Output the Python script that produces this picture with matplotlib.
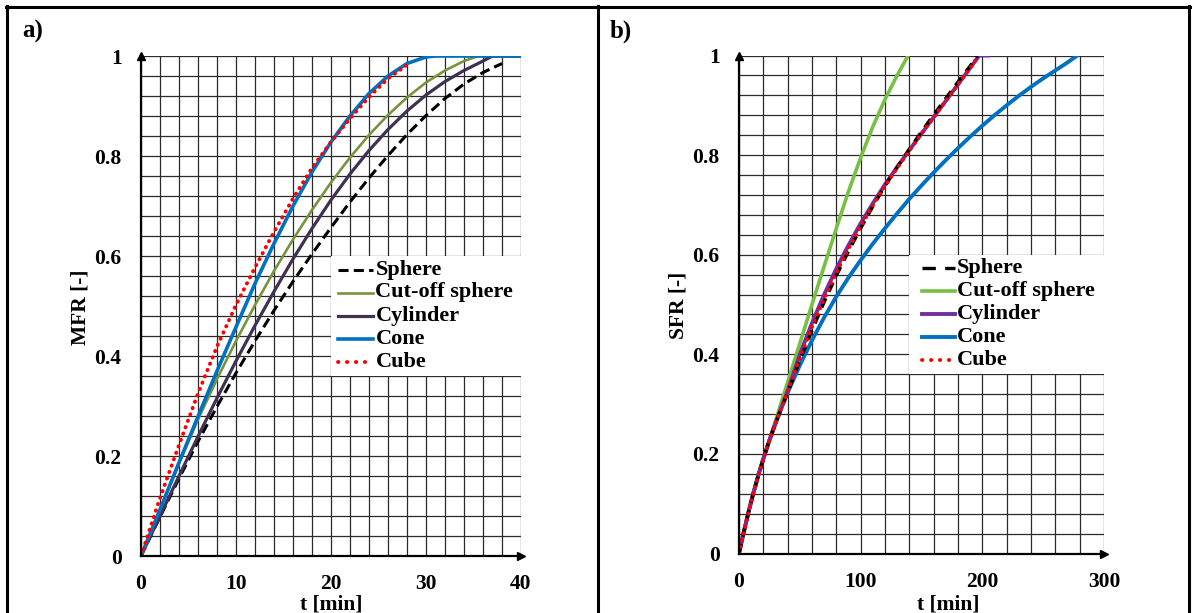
import numpy as np
import matplotlib
matplotlib.use("Agg")
import matplotlib.pyplot as plt
from matplotlib.lines import Line2D
from matplotlib.patches import Rectangle

plt.rcParams['font.family'] = ['Liberation Serif', 'DejaVu Serif']
plt.rcParams['font.weight'] = 'bold'

# ---------------- Panel a data: MFR vs t [min] ----------------
t_sphere_a = [0, 2, 4, 6, 8, 10, 12, 14, 16, 18, 20, 22, 24, 26, 28, 30, 32, 34, 36, 38]
mfr_sphere = [0, 0.078, 0.155, 0.229, 0.299, 0.366, 0.43, 0.491, 0.549, 0.604, 0.657, 0.708,
              0.756, 0.801, 0.843, 0.881, 0.915, 0.944, 0.967, 0.985]

t_cut_a = [0, 2, 4, 6, 8, 10, 12, 14, 16, 18, 20, 22, 24, 26, 28, 30, 32, 34, 35.5, 40]
mfr_cut = [0, 0.092, 0.185, 0.273, 0.354, 0.43, 0.502, 0.57, 0.633, 0.692, 0.747, 0.797,
           0.842, 0.882, 0.917, 0.947, 0.971, 0.99, 1.0, 1.0]

t_cyl_a = [0, 2, 4, 6, 8, 10, 12, 14, 16, 18, 20, 22, 24, 26, 28, 30, 32, 34, 36, 37, 40]
mfr_cyl = [0, 0.08, 0.16, 0.239, 0.316, 0.39, 0.461, 0.529, 0.594, 0.655, 0.712, 0.764,
           0.811, 0.853, 0.89, 0.922, 0.949, 0.971, 0.99, 1.0, 1.0]

t_cone_a = [0, 2, 4, 6, 8, 10, 12, 14, 16, 18, 20, 22, 24, 26, 28, 30, 31, 40]
mfr_cone = [0, 0.093, 0.187, 0.279, 0.37, 0.458, 0.545, 0.625, 0.70, 0.768, 0.828, 0.88,
            0.925, 0.96, 0.985, 0.998, 1.0, 1.0]

t_cube_a = [0, 2, 4, 6, 8, 10, 12, 14, 16, 18, 20, 22, 24, 26, 28]
mfr_cube = [0, 0.116, 0.222, 0.325, 0.419, 0.502, 0.577, 0.648, 0.715, 0.776, 0.828,
            0.875, 0.918, 0.955, 0.982]

# ---------------- Panel b data: SFR vs t [min] ----------------
t_sphere_b = [0, 4, 8, 12, 16, 20, 24, 28, 32, 36, 40, 50, 60, 70, 80, 90, 100, 110,
              120, 130, 140, 150, 160, 170, 180, 190, 196]
sfr_sphere = [0, 0.044, 0.085, 0.123, 0.158, 0.19, 0.22, 0.248, 0.274, 0.299, 0.323, 0.388,
              0.448, 0.505, 0.558, 0.607, 0.653, 0.697, 0.738, 0.776, 0.812, 0.847, 0.881,
              0.914, 0.947, 0.979, 1.0]

t_cut_b = [0, 4, 8, 12, 16, 20, 24, 28, 32, 36, 40, 50, 60, 70, 80, 90, 100, 110, 120, 130, 139]
sfr_cut = [0, 0.044, 0.085, 0.123, 0.158, 0.19, 0.22, 0.251, 0.282, 0.313, 0.344, 0.422,
           0.50, 0.577, 0.653, 0.727, 0.795, 0.857, 0.912, 0.96, 1.0]

t_cyl_b = [0, 4, 8, 12, 16, 20, 24, 28, 32, 36, 40, 50, 60, 70, 80, 90, 100, 110,
           120, 130, 140, 150, 160, 170, 180, 190, 197.5, 205]
sfr_cyl = [0, 0.044, 0.085, 0.123, 0.158, 0.19, 0.22, 0.248, 0.274, 0.3, 0.327, 0.40,
           0.463, 0.52, 0.572, 0.619, 0.663, 0.703, 0.741, 0.776, 0.81, 0.843, 0.876,
           0.909, 0.942, 0.975, 1.0, 1.0]

t_cone_b = [0, 4, 8, 12, 16, 20, 24, 28, 32, 36, 40, 50, 60, 70, 80, 90, 100, 110, 120,
            130, 140, 150, 160, 170, 180, 190, 200, 210, 220, 230, 240, 250, 260, 270, 278]
sfr_cone = [0, 0.044, 0.085, 0.123, 0.158, 0.19, 0.22, 0.248, 0.274, 0.299, 0.323, 0.378,
            0.428, 0.474, 0.516, 0.554, 0.589, 0.622, 0.653, 0.683, 0.712, 0.739, 0.765,
            0.79, 0.814, 0.837, 0.859, 0.88, 0.90, 0.919, 0.937, 0.954, 0.97, 0.986, 1.0]

t_cube_b = [0, 4, 8, 12, 16, 20, 24, 28, 32, 36, 40, 50, 60, 70, 80, 90, 100, 110,
            120, 130, 140, 150, 160, 170, 180, 190, 197]
sfr_cube = [0, 0.044, 0.085, 0.123, 0.158, 0.19, 0.22, 0.248, 0.274, 0.299, 0.325, 0.392,
            0.455, 0.512, 0.564, 0.612, 0.657, 0.699, 0.738, 0.774, 0.809, 0.843, 0.876,
            0.909, 0.942, 0.975, 1.0]

legend_labels = ["Sphere", "Cut-off sphere", "Cylinder", "Cone", "Cube"]
yticks = [0, 0.2, 0.4, 0.6, 0.8, 1.0]
ytick_labels = ["0", "0.2", "0.4", "0.6", "0.8", "1"]
xticks_a = [0, 10, 20, 30, 40]
xticks_b = [0, 100, 200, 300]

W, H = 1194, 613
fig = plt.figure(figsize=(W / 100, H / 100), dpi=100)

def fx(px):
    return px / W

def fy(py):
    return 1 - py / H

axA = fig.add_axes([fx(141), fy(556), (521 - 141) / W, (556 - 56) / H])
axB = fig.add_axes([fx(739), fy(553.5), (1104 - 739) / W, (553.5 - 55.5) / H])

FS = 15.5
LFS = 16

def style_axis(ax, xmax, xminor_step, xticks, legend_x0):
    ax.set_xlim(0, xmax)
    ax.set_ylim(0, 1)
    ax.set_xticks(xticks)
    ax.set_xticks(np.arange(0, xmax + 0.001, xminor_step), minor=True)
    ax.set_yticks(yticks)
    ax.set_yticklabels(ytick_labels)
    ax.set_yticks(np.arange(0, 1.0001, 0.04), minor=True)
    ax.tick_params(which='both', length=0)
    ax.tick_params(axis='x', pad=13, labelsize=FS)
    ax.tick_params(axis='y', pad=14, labelsize=FS)
    for lab in ax.get_xticklabels() + ax.get_yticklabels():
        lab.set_fontweight('bold')
    ax.grid(which='both', color='#2a2a2a', lw=0.9)
    ax.set_axisbelow(True)
    for s in ['top', 'right']:
        ax.spines[s].set_visible(False)
    for s in ['left', 'bottom']:
        ax.spines[s].set_linewidth(1.6)
        ax.spines[s].set_color('black')
        ax.spines[s].set_zorder(6)
    ax.plot([0], [1], marker='^', color='black', ms=6, clip_on=False, zorder=7)
    ax.plot([xmax], [0], marker='>', color='black', ms=6, clip_on=False, zorder=7)
    # white legend area covering the grid
    ax.add_patch(Rectangle((legend_x0, 0.36), 1 - legend_x0, 0.24,
                           transform=ax.transAxes, facecolor='white', edgecolor='none',
                           zorder=3))

style_axis(axA, 40, 2, xticks_a, 0.5)
style_axis(axB, 300, 20, xticks_b, 140 / 300)

dotted = (0, (0.1, 1.65))
dotted_leg = (0, (0.1, 2.2))

# Panel a curves
sA = dict(color='black', lw=2.2, linestyle=(0, (3.3, 1.7)), zorder=4)
cA = dict(color='#77933C', lw=1.9, zorder=4)
yA = dict(color='#403151', lw=2.3, zorder=4)
oA = dict(color='#0070C0', lw=2.6, zorder=4)
uA = dict(color='#FF0000', lw=2.8, linestyle=dotted, dash_capstyle='round', zorder=5)
axA.plot(t_sphere_a, mfr_sphere, **sA)
axA.plot(t_cut_a, mfr_cut, **cA)
axA.plot(t_cyl_a, mfr_cyl, **yA)
axA.plot(t_cone_a, mfr_cone, **oA)
axA.plot(t_cube_a, mfr_cube, **uA)

# Panel b curves
sB = dict(color='black', lw=2.4, linestyle=(0, (3.0, 2.2)), zorder=4)
cB = dict(color='#77C043', lw=2.6, zorder=4)
yB = dict(color='#7030A0', lw=2.8, zorder=4)
oB = dict(color='#0070C0', lw=2.8, zorder=4)
uB = dict(color='#FF0000', lw=2.8, linestyle=dotted, dash_capstyle='round', zorder=5)
axB.plot(t_cut_b, sfr_cut, **cB)
axB.plot(t_cone_b, sfr_cone, **oB)
axB.plot(t_cyl_b, sfr_cyl, **yB)
axB.plot(t_sphere_b, sfr_sphere, **sB)
axB.plot(t_cube_b, sfr_cube, **uB)

# manual legends
rows = [0.573, 0.527, 0.481, 0.435, 0.388]

def legend(ax, h0, h1, tx, styles):
    for y, lab, st in zip(rows, legend_labels, styles):
        st = dict(st)
        st['zorder'] = 6
        if st.get('linestyle') == dotted:
            st['linestyle'] = dotted_leg
        ax.add_line(Line2D([h0, h1], [y, y], transform=ax.transAxes, **st))
        ax.text(tx, y, lab, transform=ax.transAxes, fontsize=LFS, fontweight='bold',
                va='center', ha='left', zorder=6)

legend(axA, 0.518, 0.611, 0.617, [sA, cA, yA, oA, uA])
sBl = dict(sB); sBl['linestyle'] = (0, (4.0, 2.8))
legend(axB, 0.50, 0.592, 0.598, [sBl, cB, yB, oB, uB])

# axis labels
fig.text(fx(81), fy(307), "MFR [-]", rotation=90, ha='center', va='center',
         fontsize=FS, fontweight='bold')
fig.text(fx(679), fy(305), "SFR [-]", rotation=90, ha='center', va='center',
         fontsize=FS, fontweight='bold')
fig.text(fx(331), fy(605), "t [min]", ha='center', va='center', fontsize=FS, fontweight='bold')
fig.text(fx(948), fy(605), "t [min]", ha='center', va='center', fontsize=FS, fontweight='bold')

# panel letters
fig.text(fx(22), fy(31), "a)", ha='left', va='center', fontsize=18, fontweight='bold')
fig.text(fx(610), fy(31), "b)", ha='left', va='center', fontsize=18, fontweight='bold')

# table borders
def fline(x0, y0, x1, y1):
    fig.add_artist(Line2D([fx(x0), fx(x1)], [fy(y0), fy(y1)], color='black', lw=2.2,
                          transform=fig.transFigure))

fline(6, 7, 1190, 7)
fline(7, 6, 7, 613)
fline(597.5, 6, 597.5, 613)
fline(1189, 6, 1189, 613)

fig.savefig("out.png", dpi=100)
